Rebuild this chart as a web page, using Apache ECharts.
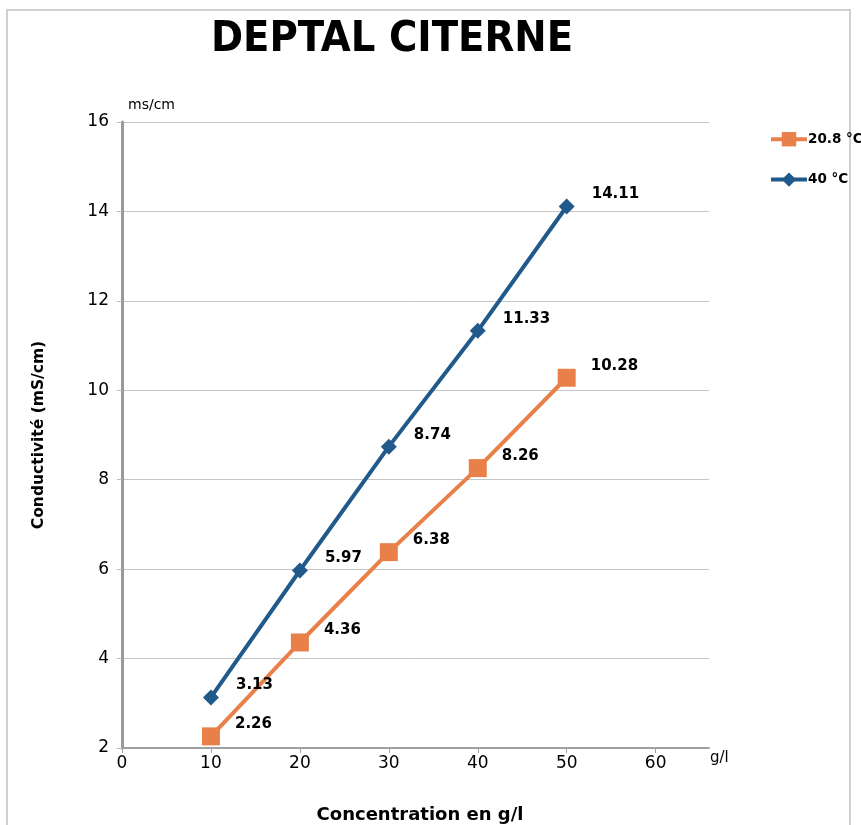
<!DOCTYPE html>
<html><head><meta charset="utf-8">
<script src="https://cdn.jsdelivr.net/npm/echarts@6/dist/echarts.min.js"></script>
<style>html,body{margin:0;padding:0;background:#fff}#c{width:861px;height:825px}</style>
</head><body><div id="c"></div>
<script>
const concentrations = [10, 20, 30, 40, 50];
const cond208 = [2.26, 4.36, 6.38, 8.26, 10.28];
const cond40 = [3.13, 5.97, 8.74, 11.33, 14.11];
const seriesNames = ['20.8 °C', '40 °C'];

const FONT = 'DejaVu Sans';
const chart = echarts.init(document.getElementById('c'));
const lbl = (off) => ({
  show: true, position: 'right', distance: 0, offset: off,
  fontFamily: FONT, fontWeight: 'bold', fontSize: 15, color: '#000'
});
chart.setOption({
  animation: false,
  textStyle: { fontFamily: FONT },
  graphic: [{ type: 'rect', shape: { x: 7, y: 10, width: 843, height: 830 }, style: { fill: 'none', stroke: '#cfcfcf', lineWidth: 2 }, silent: true }],
  title: [
    { text: 'DEPTAL CITERNE', left: 387, top: 13, textAlign: 'center',
      textStyle: { fontFamily: 'DejaVu Sans Condensed', fontWeight: 'bold', fontSize: 43, color: '#000' } },
    { text: 'ms/cm', left: 123, top: 93,
      textStyle: { fontFamily: FONT, fontWeight: 'normal', fontSize: 14, color: '#000' } },
    { text: 'Concentration en g/l', left: 415, top: 801, textAlign: 'center',
      textStyle: { fontFamily: FONT, fontWeight: 'bold', fontSize: 18, color: '#000' } }
  ],
  legend: {
    orient: 'vertical', left: 764, top: 127, itemGap: 26, itemWidth: 36, itemHeight: 18,
    data: seriesNames,
    lineStyle: { width: 4 },
    textStyle: { fontFamily: FONT, fontWeight: 'bold', fontSize: 13.5, color: '#000', padding: [0, 0, 0, -4] }
  },
  grid: { left: 122, top: 122, right: 152, bottom: 77 },
  xAxis: {
    type: 'value', min: 0, max: 66, interval: 10,
    name: 'g/l', nameLocation: 'end', nameGap: 1,
    nameTextStyle: { fontFamily: FONT, fontSize: 15, color: '#000', verticalAlign: 'top', padding: [3, 0, 0, 0] },
    axisLine: { lineStyle: { color: '#a0a0a0', width: 2 } },
    axisTick: { show: true, length: 5, lineStyle: { color: '#a0a0a0' } },
    axisLabel: { showMaxLabel: false, fontSize: 17, color: '#000', margin: 7, fontFamily: FONT },
    splitLine: { show: false }
  },
  yAxis: {
    type: 'value', min: 2, max: 16, interval: 2,
    name: 'Conductivité (mS/cm)', nameLocation: 'middle', nameRotate: 90, nameGap: 75,
    nameTextStyle: { fontFamily: FONT, fontWeight: 'bold', fontSize: 15.5, color: '#000' },
    axisLine: { show: true, lineStyle: { color: '#999', width: 3 } },
    axisTick: { show: true, length: 5, lineStyle: { color: '#bbb' } },
    axisLabel: { fontSize: 17, color: '#000', margin: 13, fontFamily: FONT },
    splitLine: { lineStyle: { color: '#c4c4c4', width: 1 } }
  },
  series: [
    { name: seriesNames[0], type: 'line', data: concentrations.map((c, i) => [c, cond208[i]]),
      symbol: 'rect', symbolSize: 18, color: '#E9804A',
      lineStyle: { width: 4, color: '#E9804A' }, itemStyle: { color: '#E9804A' },
      label: lbl([15, -12]), z: 2 },
    { name: seriesNames[1], type: 'line', data: concentrations.map((c, i) => [c, cond40[i]]),
      symbol: 'diamond', symbolSize: 16, color: '#21598A',
      lineStyle: { width: 4, color: '#21598A' }, itemStyle: { color: '#21598A' },
      label: lbl([17, -12]), z: 3 }
  ]
});
</script></body></html>
